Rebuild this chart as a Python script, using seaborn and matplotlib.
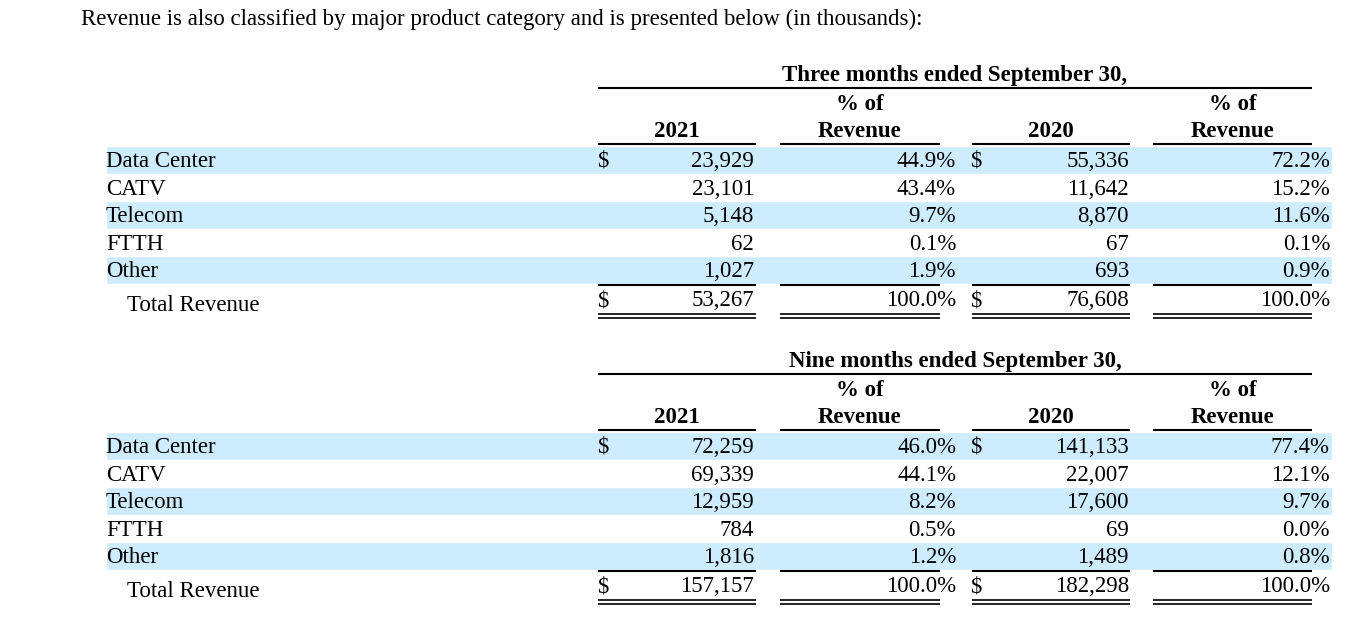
import matplotlib
matplotlib.use("Agg")
import matplotlib.pyplot as plt
import seaborn as sns

# product category revenue (in thousands)
categories = ["Data Center", "CATV", "Telecom", "FTTH", "Other"]

q3_2021 = [23929, 23101, 5148, 62, 1027]
q3_2021_pct = [44.9, 43.4, 9.7, 0.1, 1.9]
q3_2020 = [55336, 11642, 8870, 67, 693]
q3_2020_pct = [72.2, 15.2, 11.6, 0.1, 0.9]
q3_totals = [53267, 100.0, 76608, 100.0]

ytd_2021 = [72259, 69339, 12959, 784, 1816]
ytd_2021_pct = [46.0, 44.1, 8.2, 0.5, 1.2]
ytd_2020 = [141133, 22007, 17600, 69, 1489]
ytd_2020_pct = [77.4, 12.1, 9.7, 0.0, 0.8]
ytd_totals = [157157, 100.0, 182298, 100.0]

intro = "Revenue is also classified by major product category and is presented below (in thousands):"
titles = ["Three months ended September 30,", "Nine months ended September 30,"]

sns.set_theme(style="white")
plt.rcParams["font.family"] = ["Liberation Serif", "DejaVu Serif"]
plt.rcParams["text.color"] = "black"

FS = 16.5
SHADE = "#cdecfd"

fig = plt.figure(figsize=(13.71, 6.29), dpi=100)
ax = fig.add_axes([0, 0, 1, 1])
ax.set_xlim(0, 1371)
ax.set_ylim(629, 0)
ax.axis("off")

ax.text(81, 25, intro, fontsize=FS, ha="left", va="baseline")

# column geometry (pixel units)
col_spans = [(598, 756), (780, 940), (972, 1130), (1153, 1312)]
dollar_x = [597, 970]
val_right = [754, 956, 1129, 1330]


def hline(x0, x1, y, lw):
    ax.plot([x0, x1], [y, y], color="black", lw=lw, solid_capstyle="butt")


def draw_table(top, title, v21, p21, v20, p20, totals):
    # header
    ax.text((598 + 1312) / 2, top + 8, title, fontsize=FS, fontweight="bold",
            ha="center", va="baseline")
    hline(598, 1312, top + 15, 1.5)
    for i, (a, b) in enumerate(col_spans):
        c = (a + b) / 2
        if i in (1, 3):
            ax.text(c, top + 37, "% of", fontsize=FS, fontweight="bold",
                    ha="center", va="baseline")
            ax.text(c, top + 64, "Revenue", fontsize=FS, fontweight="bold",
                    ha="center", va="baseline")
        else:
            ax.text(c, top + 64, "2021" if i == 0 else "2020", fontsize=FS,
                    fontweight="bold", ha="center", va="baseline")
        hline(a, b, top + 71, 1.5)

    row_top = top + 73
    rh = 27.6
    for r, cat in enumerate(categories):
        y0 = row_top + r * rh
        if r % 2 == 0:
            ax.barh(y0 + rh / 2, 1332 - 106, height=rh, left=106,
                    color=SHADE, zorder=0)
        base = round(y0 + 21)
        ax.text(106, base, cat, fontsize=FS, ha="left", va="baseline")
        cells = [f"{v21[r]:,}", f"{p21[r]:.1f}%", f"{v20[r]:,}", f"{p20[r]:.1f}%"]
        for x, s in zip(val_right, cells):
            ax.text(x, base, s, fontsize=FS, ha="right", va="baseline")
        if r == 0:
            for x in dollar_x:
                ax.text(x, base, "$", fontsize=FS, ha="left", va="baseline")

    line_y = round(row_top + 5 * rh + 1)
    for a, b in col_spans:
        hline(a, b, line_y, 1.5)
        hline(a, b, line_y + 29, 1.2)
        hline(a, b, line_y + 33, 1.2)

    tb = line_y + 21
    ax.text(127, tb + 5, "Total Revenue", fontsize=FS, ha="left", va="baseline")
    cells = [f"{totals[0]:,}", f"{totals[1]:.1f}%", f"{totals[2]:,}", f"{totals[3]:.1f}%"]
    for x, s in zip(val_right, cells):
        ax.text(x, tb, s, fontsize=FS, ha="right", va="baseline")
    for x in dollar_x:
        ax.text(x, tb, "$", fontsize=FS, ha="left", va="baseline")


draw_table(73, titles[0], q3_2021, q3_2021_pct, q3_2020, q3_2020_pct, q3_totals)
draw_table(359, titles[1], ytd_2021, ytd_2021_pct, ytd_2020, ytd_2020_pct, ytd_totals)

fig.savefig("out.png", dpi=100)
